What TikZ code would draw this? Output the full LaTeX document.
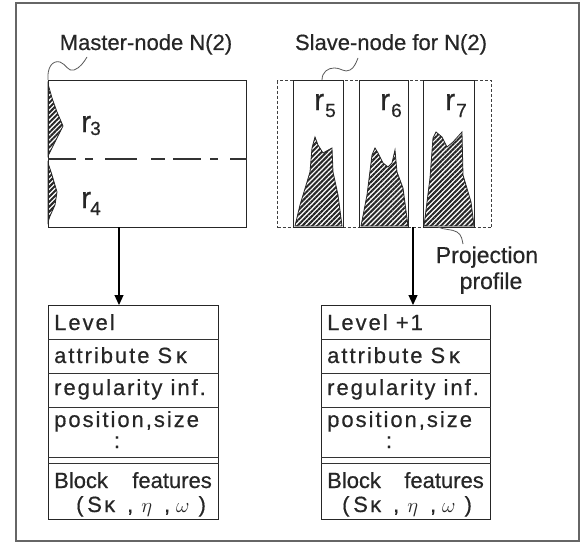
\documentclass[tikz,border=0pt]{standalone}
\usepackage{fontspec}
\setmainfont[FakeBold=0.5]{Liberation Sans}
\newfontfamily\tabfont[LetterSpace=9,FakeBold=0.5]{Liberation Sans}
\usetikzlibrary{arrows.meta,patterns.meta,calc}

% the feature tuple printed in the last row of each table
\newcommand{\featuretuple}{(\hspace{3.7pt}S\hspace{2.3pt}κ\hspace{12pt},\hspace{8pt}$\eta$\hspace{12pt},\hspace{6pt}$\omega$\hspace{9pt})}

\begin{document}
\begin{tikzpicture}[x=1pt,y=-1pt,
  box/.style={draw=black!85, line width=1.3pt, inner sep=0pt},
  slavebox/.style={draw=black!75, line width=1.2pt, dash pattern=on 3pt off 2pt, inner sep=0pt},
  rowline/.style={draw=black!80, line width=1pt},
  hatch/.style={draw=black!85, line width=0.8pt,
    pattern={Lines[angle=45,distance=3.5pt,line width=2pt]}, pattern color=black!85},
  wave/.style={draw=black!65, line width=0.8pt},
  link/.style={draw=black, line width=1.2pt, -{Triangle[length=10pt,width=9pt]}},
  lbl/.style={font=\fontsize{22}{26}\selectfont, inner sep=0pt, anchor=base, text=black!85},
  cell/.style={font=\tabfont\fontsize{22}{26}\selectfont, inner sep=0pt, anchor=base west, text=black!85},
  tuple/.style={font=\fontsize{22}{26}\selectfont, inner sep=0pt, anchor=base west, text=black!85},
  rlab/.style={font=\fontsize{30}{30}\selectfont, inner sep=0pt, anchor=base west, text=black!85},
  rsub/.style={font=\fontsize{19}{19}\selectfont, inner sep=0pt, anchor=base west, text=black!85},
]
\useasboundingbox (0,0) rectangle (586,543);

% outer frame
\draw[draw=black!60, line width=2pt] (16,3) rectangle (579,541);

% ---------- master node ----------
\node[box, minimum width=198pt, minimum height=147pt, anchor=north west] (master) at (48,80) {};
\draw[draw=black!80, line width=1.1pt, dash pattern=on 28pt off 9pt on 8pt off 12pt on 32pt off 14pt on 14pt off 8pt]
  (master.west |- 0,159) -- (master.east |- 0,159);
\path[hatch] (48,84) -- (52,98) -- (57,112) -- (63,126) -- (59,134) -- (53,146) -- (48,156) -- cycle;
\path[hatch] (48,163) -- (52,175) -- (57,192) -- (55,205) -- (50,216) -- (48,222) -- cycle;
\node[rlab] (r3) at (81,132) {r};
\node[rsub] (r3s) at (90,135) {3};
\node[rlab] (r4) at (81,208) {r};
\node[rsub] (r4s) at (90,215) {4};
\node[lbl] (mlabel) at (146,50) {Master-node N(2)};
\coordinate (mwave) at (87,57);
\draw[wave] (master.north west) .. controls (47,68) and (52,60) .. (60,62)
  .. controls (66,64) and (68,72) .. (74,70) .. controls (80,68) and (84,62) .. (mwave);

% ---------- slave node ----------
\node[slavebox, minimum width=214pt, minimum height=147pt, anchor=north west] (slave) at (277,80) {};
\node[box, minimum width=50pt, minimum height=147pt, anchor=north west] (b5) at (293,80) {};
\node[box, minimum width=49pt, minimum height=147pt, anchor=north west] (b6) at (359,80) {};
\node[box, minimum width=51pt, minimum height=147pt, anchor=north west] (b7) at (423,80) {};
\path[hatch] (295,226) -- (300,205) -- (307,182) -- (310,172) -- (312,148) -- (315,137) -- (318,145)
  -- (323,153) -- (332,148) -- (333,172) -- (338,195) -- (342,226) -- cycle;
\path[hatch] (361,226) -- (367,195) -- (372,155) -- (375,148) -- (378,153) -- (383,163) -- (388,167)
  -- (392,163) -- (395,150) -- (397,172) -- (403,188) -- (408,226) -- cycle;
\path[hatch] (424,226) -- (430,178) -- (433,138) -- (436,132) -- (442,137) -- (447,147) -- (453,142)
  -- (462,132) -- (463,175) -- (471,202) -- (474,226) -- cycle;
\node[rlab] (r5) at (314,110) {r};
\node[rsub] (r5s) at (325,117) {5};
\node[rlab] (r6) at (380,110) {r};
\node[rsub] (r6s) at (391,117) {6};
\node[rlab] (r7) at (445,110) {r};
\node[rsub] (r7s) at (456,117) {7};
\node[lbl] (slabel) at (391,50) {Slave-node for N(2)};
\coordinate (swstart) at (322,80);
\coordinate (swave) at (358,58);
\draw[wave] (swstart)
  .. controls (322,72) and (328,68) .. (334,68)
  .. controls (342,68) and (344,73) .. (350,70) .. controls (354,68) and (356,63) .. (swave);

% projection profile label
\node[lbl, font=\fontsize{23}{27}\selectfont] (proj1) at (487,263) {Projection};
\node[lbl, font=\fontsize{23}{27}\selectfont] (proj2) at (491,289) {profile};
\coordinate (pstart) at (438,227);
\coordinate (pend) at (463,244);
\draw[wave] (pstart) .. controls (444,230) and (452,229) .. (457,232)
  .. controls (462,235) and (462,240) .. (pend);

% ---------- feature tables ----------
\node[box, minimum width=170pt, minimum height=214pt, anchor=north west] (ltab) at (48,305) {};
\node[box, minimum width=169pt, minimum height=214pt, anchor=north west] (rtab) at (321,305) {};
\foreach \t in {ltab,rtab}{
  \foreach \dy in {34,68,102,152,158}{
    \draw[rowline] ($(\t.north west)+(0,\dy)$) -- ($(\t.north east)+(0,\dy)$);
  }
}

% left table text
\node[cell] (l1) at ($(ltab.north west)+(6,25)$) {Level};
\node[cell] (l2) at ($(ltab.north west)+(6,58)$) {attribute\hspace{8pt}S\,κ};
\node[cell] (l3) at ($(ltab.north west)+(6,90)$) {regularity inf.};
\node[cell] (l4) at ($(ltab.north west)+(6,122)$) {position,size};
\node[cell, anchor=base] (l5) at ($(ltab.north west)+(69,143)$) {:};
\node[tuple] (l6a) at ($(ltab.north west)+(6,183)$) {Block};
\node[tuple, anchor=base east] (l6b) at ($(ltab.north west)+(164,183)$) {features};
\node[tuple] (l7) at ($(ltab.north west)+(28,207)$) {\featuretuple};

% right table text
\node[cell] (q1) at ($(rtab.north west)+(6,25)$) {Level +1};
\node[cell] (q2) at ($(rtab.north west)+(6,58)$) {attribute\hspace{8pt}S\,κ};
\node[cell] (q3) at ($(rtab.north west)+(6,90)$) {regularity inf.};
\node[cell] (q4) at ($(rtab.north west)+(6,122)$) {position,size};
\node[cell, anchor=base] (q5) at ($(rtab.north west)+(68,143)$) {:};
\node[tuple] (q6a) at ($(rtab.north west)+(6,183)$) {Block};
\node[tuple, anchor=base east] (q6b) at ($(rtab.north west)+(163,183)$) {features};
\node[tuple] (q7) at ($(rtab.north west)+(21,207)$) {\featuretuple};

% ---------- connectors ----------
\coordinate (mout) at (119,227);
\coordinate (sout) at (413,227);
\draw[link] (mout) -- (mout |- ltab.north);
\draw[link] (sout) -- (sout |- rtab.north);
\end{tikzpicture}
\end{document}
